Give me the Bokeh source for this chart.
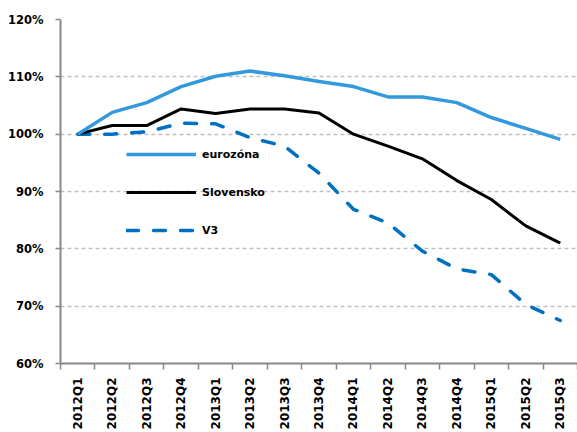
import math
from bokeh.plotting import figure
from bokeh.models import Range1d, FixedTicker, PrintfTickFormatter, ColumnDataSource
from bokeh.embed import file_html
from bokeh.resources import INLINE

categories = ["2012Q1", "2012Q2", "2012Q3", "2012Q4", "2013Q1", "2013Q2", "2013Q3", "2013Q4",
              "2014Q1", "2014Q2", "2014Q3", "2014Q4", "2015Q1", "2015Q2", "2015Q3"]
eurozona = [100.0, 103.8, 105.5, 108.3, 110.1, 111.0, 110.2, 109.2, 108.3, 106.5, 106.5, 105.5, 102.9, 101.0, 99.1]
slovensko = [100.0, 101.5, 101.5, 104.4, 103.6, 104.4, 104.4, 103.7, 100.0, 97.9, 95.7, 91.9, 88.6, 84.0, 81.0]
v3 = [100.0, 100.0, 100.4, 101.9, 101.8, 99.4, 97.9, 93.2, 86.9, 84.5, 79.6, 76.5, 75.5, 70.3, 67.5]
y_ticks = [60, 70, 80, 90, 100, 110, 120]

idx = list(range(len(categories)))
src = ColumnDataSource(dict(x=idx, eur=eurozona, svk=slovensko, v3=v3))

p = figure(width=577, height=432, output_backend="svg", toolbar_location=None,
           x_range=Range1d(-0.5, len(categories) - 0.5), y_range=Range1d(60, 120))
p.min_border_left = 60
p.min_border_right = 0
p.min_border_top = 19
p.min_border_bottom = 68
p.outline_line_color = None
p.background_fill_color = "white"
p.border_fill_color = "white"

FONT = "DejaVu Sans"

# x axis
p.xaxis.ticker = FixedTicker(ticks=idx, minor_ticks=[i - 0.5 for i in range(len(categories) + 1)])
p.xaxis.major_label_overrides = {i: c for i, c in enumerate(categories)}
p.xaxis.major_label_orientation = math.pi / 2
p.xaxis.major_tick_line_color = None
p.xaxis.minor_tick_out = 6
p.xaxis.minor_tick_in = 0
p.xaxis.minor_tick_line_color = "#888888"
p.xaxis.minor_tick_line_width = 1.5
p.xaxis.axis_line_color = "#888888"
p.xaxis.axis_line_width = 2
p.xaxis.major_label_text_font = FONT
p.xaxis.major_label_text_font_style = "bold"
p.xaxis.major_label_text_font_size = "12px"
p.xaxis.major_label_text_color = "black"
p.xaxis.major_label_standoff = 8
p.xgrid.grid_line_color = None

# y axis
p.yaxis.ticker = FixedTicker(ticks=y_ticks)
p.yaxis.formatter = PrintfTickFormatter(format="%d%%")
p.yaxis.minor_tick_line_color = None
p.yaxis.major_tick_out = 5
p.yaxis.major_tick_in = 0
p.yaxis.major_tick_line_color = "#888888"
p.yaxis.major_tick_line_width = 1.5
p.yaxis.axis_line_color = "#888888"
p.yaxis.axis_line_width = 2
p.yaxis.major_label_text_font = FONT
p.yaxis.major_label_text_font_style = "bold"
p.yaxis.major_label_text_font_size = "11.5px"
p.yaxis.major_label_text_color = "black"
p.yaxis.major_label_standoff = 12
p.ygrid.grid_line_color = "#c0c0c0"
p.ygrid.grid_line_dash = "4 3"
p.ygrid.grid_line_width = 1.5

p.line("x", "v3", source=src, color="#0070C0", line_width=3.5, line_dash="12 15",
       line_cap="round", line_join="round", legend_label="V3")
p.line("x", "svk", source=src, color="black", line_width=3, line_join="round", legend_label="Slovensko")
p.line("x", "eur", source=src, color="#3399DD", line_width=3.5, line_join="round", legend_label="eurozóna")

leg = p.legend[0]
items = list(leg.items)
leg.items = [items[2], items[1], items[0]]
leg.location = (66, 123)
leg.padding = 0
leg.margin = 0
leg.spacing = 18
leg.glyph_width = 70
leg.glyph_height = 20
leg.label_height = 20
leg.label_standoff = 6
leg.background_fill_alpha = 0
leg.border_line_color = None
leg.label_text_font = FONT
leg.label_text_font_style = "bold"
leg.label_text_font_size = "11px"
leg.label_text_color = "black"

open("out.html", "w").write(file_html(p, INLINE))
